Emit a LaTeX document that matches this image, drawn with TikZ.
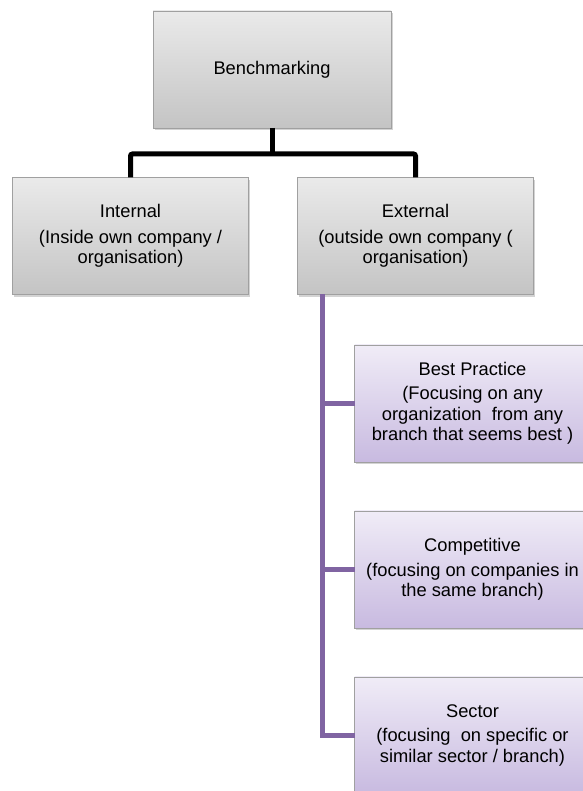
\documentclass[tikz,border=0pt]{standalone}
\usepackage{fontspec}
\setmainfont{Liberation Sans}
\usetikzlibrary{positioning,shadows}
\definecolor{boxgraytop}{RGB}{234,234,234}
\definecolor{boxgraybot}{RGB}{196,196,196}
\definecolor{boxlilatop}{RGB}{240,236,247}
\definecolor{boxlilabot}{RGB}{200,186,224}
\definecolor{boxedge}{RGB}{160,160,160}
\definecolor{branchpurple}{RGB}{128,100,162}

\begin{document}
\begin{tikzpicture}
              [x=1pt,y=1pt,
                every node/.style={rectangle,draw=boxedge,line width=0.8pt,outer sep=0pt,inner sep=2pt,
                  align=center,font=\fontsize{18.3}{20.5}\selectfont,
                  minimum width=236pt,minimum height=117pt,
                  drop shadow={opacity=0.35,shadow xshift=1.5pt,shadow yshift=-2.5pt}},
                graybox/.style={top color=boxgraytop,bottom color=boxgraybot},
                lilabox/.style={top color=boxlilatop,bottom color=boxlilabot},
                trunk/.style={line width=5pt,black,rounded corners=2pt},
                branch/.style={line width=5.5pt,branchpurple}]
              \useasboundingbox (0,0) rectangle (582,791);
              \node[graybox,minimum width=238pt] (bench) at (272,721.5) {Benchmarking};
              \node[graybox] (intl) at (130.5,555) {Internal\\[5pt](Inside own company /\\organisation)};
              \node[graybox] (extl) [right=49pt of intl] {External\\[5pt](outside own company (\\organisation)};
              \node[lilabox] (best) at (472.5,387.5) {Best Practice\\[4pt](Focusing on any\\organization\ \ from any\\branch that seems best )};
              \node[lilabox] (comp) [below=49pt of best] {Competitive\\[4pt](focusing on companies in\\the same branch)};
              \node[lilabox] (sect) [below=49pt of comp] {Sector\\[4pt](focusing\ \ on specific or\\similar sector / branch)};
              % black tree
              \draw[trunk] (bench.south) -- ++(0,-26) coordinate (split);
              \draw[trunk] (intl.north) |- (split) -| (extl.north);
              % purple stem
              \coordinate (stem) at ([xshift=25pt]extl.south west);
              \draw[branch] (stem) |- (sect.west);
              \foreach \to in {best,comp}
              \draw[branch] (stem |- \to.west) -- (\to.west);
            \end{tikzpicture}
\end{document}
